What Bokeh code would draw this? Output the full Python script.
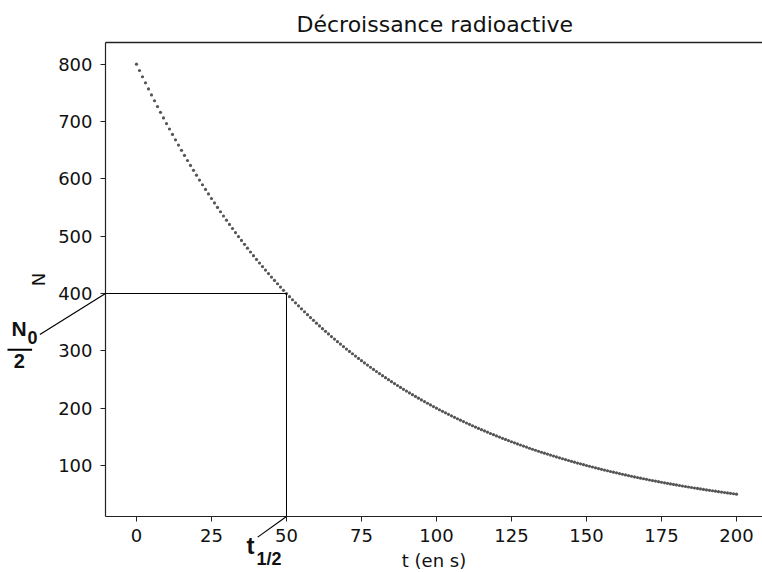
from bokeh.plotting import figure
from bokeh.models import Range1d, FixedTicker, Label, Arrow, ColumnDataSource
from bokeh.embed import file_html
from bokeh.resources import INLINE

title_text = "Décroissance radioactive"
x_label = "t (en s)"
y_label = "N"

t_s = [
    0, 1, 2, 3, 4, 5, 6, 7, 8, 9, 10, 11, 12, 13, 14, 15, 16, 17, 18, 19,
    20, 21, 22, 23, 24, 25, 26, 27, 28, 29, 30, 31, 32, 33, 34, 35, 36, 37, 38, 39,
    40, 41, 42, 43, 44, 45, 46, 47, 48, 49, 50, 51, 52, 53, 54, 55, 56, 57, 58, 59,
    60, 61, 62, 63, 64, 65, 66, 67, 68, 69, 70, 71, 72, 73, 74, 75, 76, 77, 78, 79,
    80, 81, 82, 83, 84, 85, 86, 87, 88, 89, 90, 91, 92, 93, 94, 95, 96, 97, 98, 99,
    100, 101, 102, 103, 104, 105, 106, 107, 108, 109, 110, 111, 112, 113, 114, 115, 116, 117, 118, 119,
    120, 121, 122, 123, 124, 125, 126, 127, 128, 129, 130, 131, 132, 133, 134, 135, 136, 137, 138, 139,
    140, 141, 142, 143, 144, 145, 146, 147, 148, 149, 150, 151, 152, 153, 154, 155, 156, 157, 158, 159,
    160, 161, 162, 163, 164, 165, 166, 167, 168, 169, 170, 171, 172, 173, 174, 175, 176, 177, 178, 179,
    180, 181, 182, 183, 184, 185, 186, 187, 188, 189, 190, 191, 192, 193, 194, 195, 196, 197, 198, 199,
    200,
]

N = [
    800.0, 789.0, 778.1, 767.4, 756.8, 746.4, 736.2, 726.0, 716.0, 706.2,
    696.4, 686.9, 677.4, 668.1, 658.9, 649.8, 640.9, 632.0, 623.3, 614.8,
    606.3, 597.9, 589.7, 581.6, 573.6, 565.7, 557.9, 550.2, 542.6, 535.2,
    527.8, 520.5, 513.4, 506.3, 499.3, 492.5, 485.7, 479.0, 472.4, 465.9,
    459.5, 453.2, 446.9, 440.8, 434.7, 428.7, 422.8, 417.0, 411.2, 405.6,
    400.0, 394.5, 389.1, 383.7, 378.4, 373.2, 368.1, 363.0, 358.0, 353.1,
    348.2, 343.4, 338.7, 334.0, 329.4, 324.9, 320.4, 316.0, 311.7, 307.4,
    303.1, 299.0, 294.9, 290.8, 286.8, 282.8, 278.9, 275.1, 271.3, 267.6,
    263.9, 260.3, 256.7, 253.2, 249.7, 246.2, 242.8, 239.5, 236.2, 232.9,
    229.7, 226.6, 223.5, 220.4, 217.3, 214.4, 211.4, 208.5, 205.6, 202.8,
    200.0, 197.2, 194.5, 191.8, 189.2, 186.6, 184.0, 181.5, 179.0, 176.5,
    174.1, 171.7, 169.3, 167.0, 164.7, 162.5, 160.2, 158.0, 155.8, 153.7,
    151.6, 149.5, 147.4, 145.4, 143.4, 141.4, 139.5, 137.6, 135.7, 133.8,
    132.0, 130.1, 128.3, 126.6, 124.8, 123.1, 121.4, 119.8, 118.1, 116.5,
    114.9, 113.3, 111.7, 110.2, 108.7, 107.2, 105.7, 104.2, 102.8, 101.4,
    100.0, 98.6, 97.3, 95.9, 94.6, 93.3, 92.0, 90.8, 89.5, 88.3,
    87.1, 85.9, 84.7, 83.5, 82.4, 81.2, 80.1, 79.0, 77.9, 76.8,
    75.8, 74.7, 73.7, 72.7, 71.7, 70.7, 69.7, 68.8, 67.8, 66.9,
    66.0, 65.1, 64.2, 63.3, 62.4, 61.6, 60.7, 59.9, 59.1, 58.2,
    57.4, 56.6, 55.9, 55.1, 54.3, 53.6, 52.9, 52.1, 51.4, 50.7,
    50.0,
]

x_ticks = [0, 25, 50, 75, 100, 125, 150, 175, 200]
y_ticks = [100, 200, 300, 400, 500, 600, 700, 800]

t_half = 50
N_half = N[0] / 2

# visible data window (axes box) and whole-canvas ranges
X_LO, X_HI = -10.33, 208.67
Y_LO, Y_HI = 11.0, 837.8

FONT = "DejaVu Sans"
ANN_FONT = "Liberation Sans"

x_range = Range1d(-45.33, 208.67)
y_range = Range1d(-86.7, 841.3)

p = figure(width=762, height=572, output_backend="svg", toolbar_location=None,
           x_range=x_range, y_range=y_range,
           min_border_left=0, min_border_right=0, min_border_top=40, min_border_bottom=0)

p.title.text = title_text
p.title.text_font = FONT
p.title.text_font_size = "22px"
p.title.text_font_style = "normal"
p.title.text_color = "#111111"
p.title.align = "left"
p.title.offset = 296
p.title.standoff = 7

p.outline_line_color = None
p.grid.visible = False
p.background_fill_color = "white"
p.border_fill_color = "white"

for ax in (p.xaxis[0], p.yaxis[0]):
    ax.axis_line_color = "#222222"
    ax.axis_line_width = 1.2
    ax.major_tick_line_color = "#222222"
    ax.major_tick_out = 5
    ax.major_tick_in = 0
    ax.minor_tick_line_color = None
    ax.major_label_text_font = FONT
    ax.major_label_text_font_size = "18px"
    ax.major_label_text_color = "#111111"
    ax.axis_label_text_font = FONT
    ax.axis_label_text_font_size = "18px"
    ax.axis_label_text_font_style = "normal"
    ax.axis_label_text_color = "#111111"

xa = p.xaxis[0]
ya = p.yaxis[0]
xa.ticker = FixedTicker(ticks=x_ticks)
ya.ticker = FixedTicker(ticks=y_ticks)
xa.axis_label = x_label
ya.axis_label = y_label
xa.fixed_location = Y_LO
ya.fixed_location = X_LO
xa.bounds = (X_LO, X_HI)
ya.bounds = (Y_LO, Y_HI)
xa.major_label_standoff = 8
ya.major_label_standoff = 8
xa.axis_label_standoff = 4
ya.axis_label_standoff = 6

# top border of the axes box
p.segment(x0=[X_LO], y0=[Y_HI], x1=[X_HI], y1=[Y_HI], line_color="#222222", line_width=1.5)

src = ColumnDataSource(dict(t=t_s, N=N))
p.scatter("t", "N", source=src, size=3.2, fill_color="#555555", line_color=None, marker="circle")

# half-life construction lines
p.segment(x0=[X_LO], y0=[N_half], x1=[t_half], y1=[N_half], line_color="black", line_width=1)
p.segment(x0=[t_half], y0=[N_half], x1=[t_half], y1=[Y_LO], line_color="black", line_width=1)

# leader lines to the hand annotations
p.add_layout(Arrow(end=None, x_start=X_LO, y_start=N_half,
                   x_end=t_half - 82.2, y_end=N_half - 71.5, line_color="black", line_width=1.2))
p.add_layout(Arrow(end=None, x_start=t_half, y_start=Y_LO,
                   x_end=t_half - 9.6, y_end=N_half - 425, line_color="black", line_width=1.2))
# fraction bar
p.add_layout(Arrow(end=None, x_start=t_half - 93, y_start=N_half - 98.2,
                   x_end=t_half - 84.8, y_end=N_half - 98.2, line_color="black", line_width=2))

def ann(txt, x, y, size):
    p.add_layout(Label(x=x, y=y, text=txt, text_font=ANN_FONT, text_font_size=size,
                       text_font_style="bold", text_color="#111111",
                       text_align="left", text_baseline="alphabetic"))

ann("N", t_half - 91.7, N_half - 61.1, "21px")
ann("0", t_half - 86.3, N_half - 77.0, "18px")
ann("2", t_half - 90.9, N_half - 117.4, "20px")
ann("t", t_half - 13.3, N_half - 439.6, "24px")
ann("1/2", t_half - 10, N_half - 463.6, "18px")

open("out.html", "w").write(file_html(p, INLINE))
